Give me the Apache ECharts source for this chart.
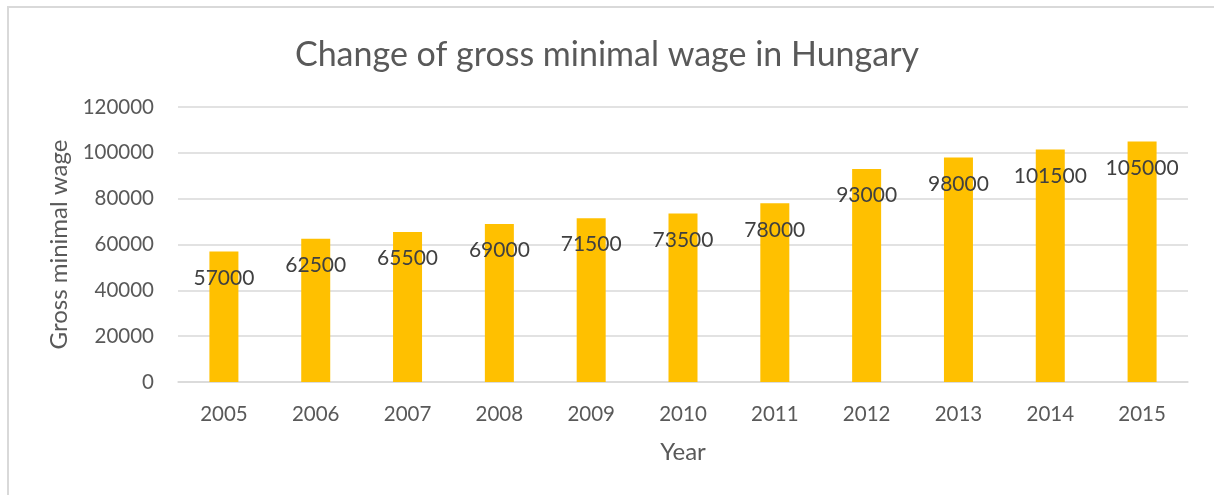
<!DOCTYPE html>
<html>
<head>
<meta charset="utf-8">
<style>
  html, body { margin: 0; padding: 0; background: #fff; }
  #main { width: 1214px; height: 495px; }
</style>
<script src="https://cdn.jsdelivr.net/npm/echarts@6/dist/echarts.min.js"></script>
</head>
<body>
<div id="main"></div>
<script>
const years = ['2005', '2006', '2007', '2008', '2009', '2010', '2011', '2012', '2013', '2014', '2015']
const wages = [57000, 62500, 65500, 69000, 71500, 73500, 78000, 93000, 98000, 101500, 105000]
const yTicks = { min: 0, max: 120000, interval: 20000 }

const font = 'Lato, "Open Sans", sans-serif'
const chart = echarts.init(document.getElementById('main'))
const option = {
  animation: false,
  textStyle: { fontFamily: font },
  graphic: [{
    type: 'rect',
    silent: true,
    shape: { x: 8, y: 7, width: 1400, height: 700 },
    style: { fill: 'none', stroke: '#d9d9d9', lineWidth: 2 }
  }],
  title: {
    text: 'Change of gross minimal wage in Hungary',
    left: 'center',
    top: 33,
    textStyle: { color: '#595959', fontSize: 34, fontWeight: 'normal', fontFamily: font }
  },
  grid: { left: 178, right: 26, top: 107, bottom: 113 },
  xAxis: {
    type: 'category',
    data: years,
    name: 'Year',
    nameLocation: 'middle',
    nameGap: 58,
    nameTextStyle: { color: '#595959', fontSize: 24, fontFamily: font },
    axisTick: { show: false },
    axisLine: { lineStyle: { color: '#d9d9d9', width: 1.5 } },
    axisLabel: { color: '#595959', fontSize: 20.5, margin: 22, fontFamily: font }
  },
  yAxis: {
    type: 'value',
    min: yTicks.min,
    max: yTicks.max,
    interval: yTicks.interval,
    name: 'Gross minimal wage',
    nameLocation: 'middle',
    nameGap: 104,
    nameTextStyle: { color: '#595959', fontSize: 24, fontFamily: font },
    axisLine: { show: false },
    axisTick: { show: false },
    axisLabel: { color: '#595959', fontSize: 20.5, margin: 24, fontFamily: font, formatter: v => String(v) },
    splitLine: { lineStyle: { color: '#d9d9d9', width: 1.5 } }
  },
  series: [{
    type: 'bar',
    data: wages,
    barWidth: 29,
    itemStyle: { color: '#FFC000' },
    label: {
      show: true,
      position: 'insideTop',
      distance: 16,
      color: '#404040',
      fontSize: 21,
      fontFamily: font
    }
  }]
}
chart.setOption(option)
</script>
</body>
</html>
